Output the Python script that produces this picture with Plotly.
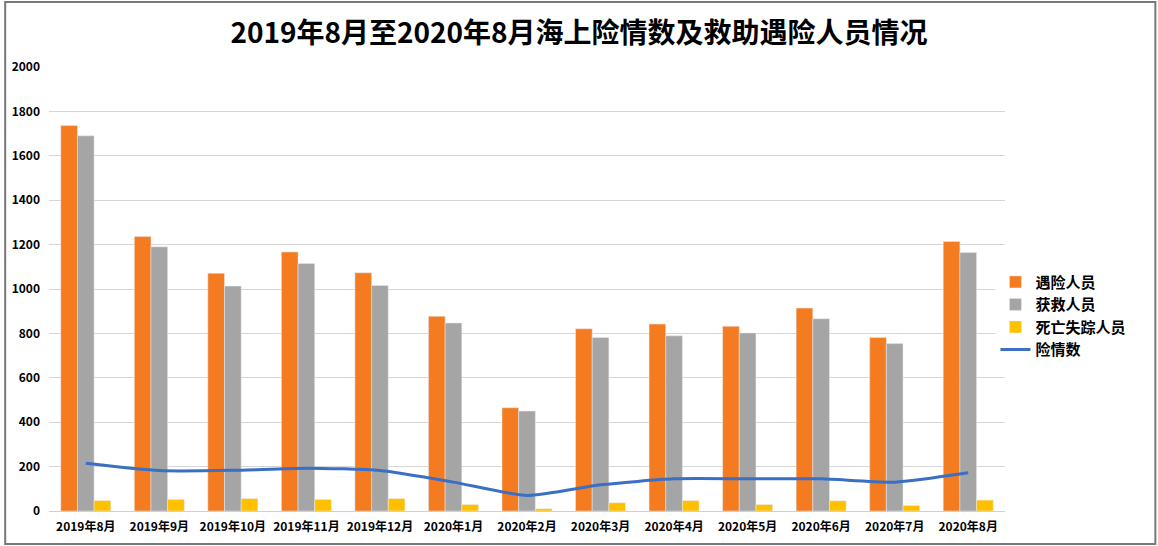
import plotly.graph_objects as go

categories = ["2019年8月", "2019年9月", "2019年10月", "2019年11月", "2019年12月",
              "2020年1月", "2020年2月", "2020年3月", "2020年4月", "2020年5月",
              "2020年6月", "2020年7月", "2020年8月"]
encounter = [1737, 1237, 1071, 1167, 1073, 877, 465, 821, 842, 832, 914, 782, 1214]
rescued = [1690, 1190, 1013, 1115, 1016, 847, 450, 782, 789, 802, 866, 754, 1164]
dead_missing = [47, 52, 56, 52, 56, 29, 10, 37, 47, 29, 46, 25, 49]
incidents = [215, 182, 183, 193, 182, 130, 70, 118, 145, 145, 145, 130, 172]

yticks = [0, 200, 400, 600, 800, 1000, 1200, 1400, 1600, 1800, 2000]

FONT = "Noto Sans CJK SC"

fig = go.Figure()
fig.add_trace(go.Bar(name="遇险人员", x=categories, y=encounter, marker_color="#F47B20"))
fig.add_trace(go.Bar(name="获救人员", x=categories, y=rescued, marker_color="#A5A5A5"))
fig.add_trace(go.Bar(name="死亡失踪人员", x=categories, y=dead_missing, marker_color="#FFC000"))
fig.add_trace(go.Scatter(name="险情数", x=categories, y=incidents, mode="lines",
                         line=dict(color="#3A6FC4", width=3, shape="spline", smoothing=0.6)))

W, H = 1158, 546
ml, mr, mt, mb = 45, 153, 67, 35
pw, ph = W - ml - mr, H - mt - mb

fig.update_layout(
    width=W, height=H,
    margin=dict(l=ml, r=mr, t=mt, b=mb),
    paper_bgcolor="white", plot_bgcolor="white",
    barmode="group", bargap=0.32, bargroupgap=0,
    title=dict(text="<b>2019年8月至2020年8月海上险情数及救助遇险人员情况</b>",
               x=0.5, xref="container", xanchor="center", y=0.94, yanchor="middle",
               font=dict(family=FONT, size=28, color="#000")),
    font=dict(family=FONT, color="#000"),
    legend=dict(x=0.99, xanchor="left", y=0.44, yanchor="middle",
                font=dict(family=FONT, size=15, color="#000", weight="bold"),
                tracegroupgap=2, itemwidth=30),
    xaxis=dict(tickfont=dict(family=FONT, size=12, color="#000", weight="bold"),
               showline=True, linecolor="#d0d0d0", linewidth=1, ticks="",
               ticklabelstandoff=5),
    yaxis=dict(range=[0, 2000], tickvals=yticks, showgrid=True, gridcolor="#d6d6d6",
               zeroline=False, showline=False, ticks="", ticklabelstandoff=8,
               tickfont=dict(family=FONT, size=12, color="#000", weight="bold")),
    shapes=[dict(type="rect", xref="paper", yref="paper",
                 x0=-(ml - 1) / pw, x1=1 + (mr - 2) / pw,
                 y0=-(mb - 2) / ph, y1=1 + (mt - 2) / ph,
                 line=dict(color="#777", width=2))],
)

fig.write_html("out.html")
